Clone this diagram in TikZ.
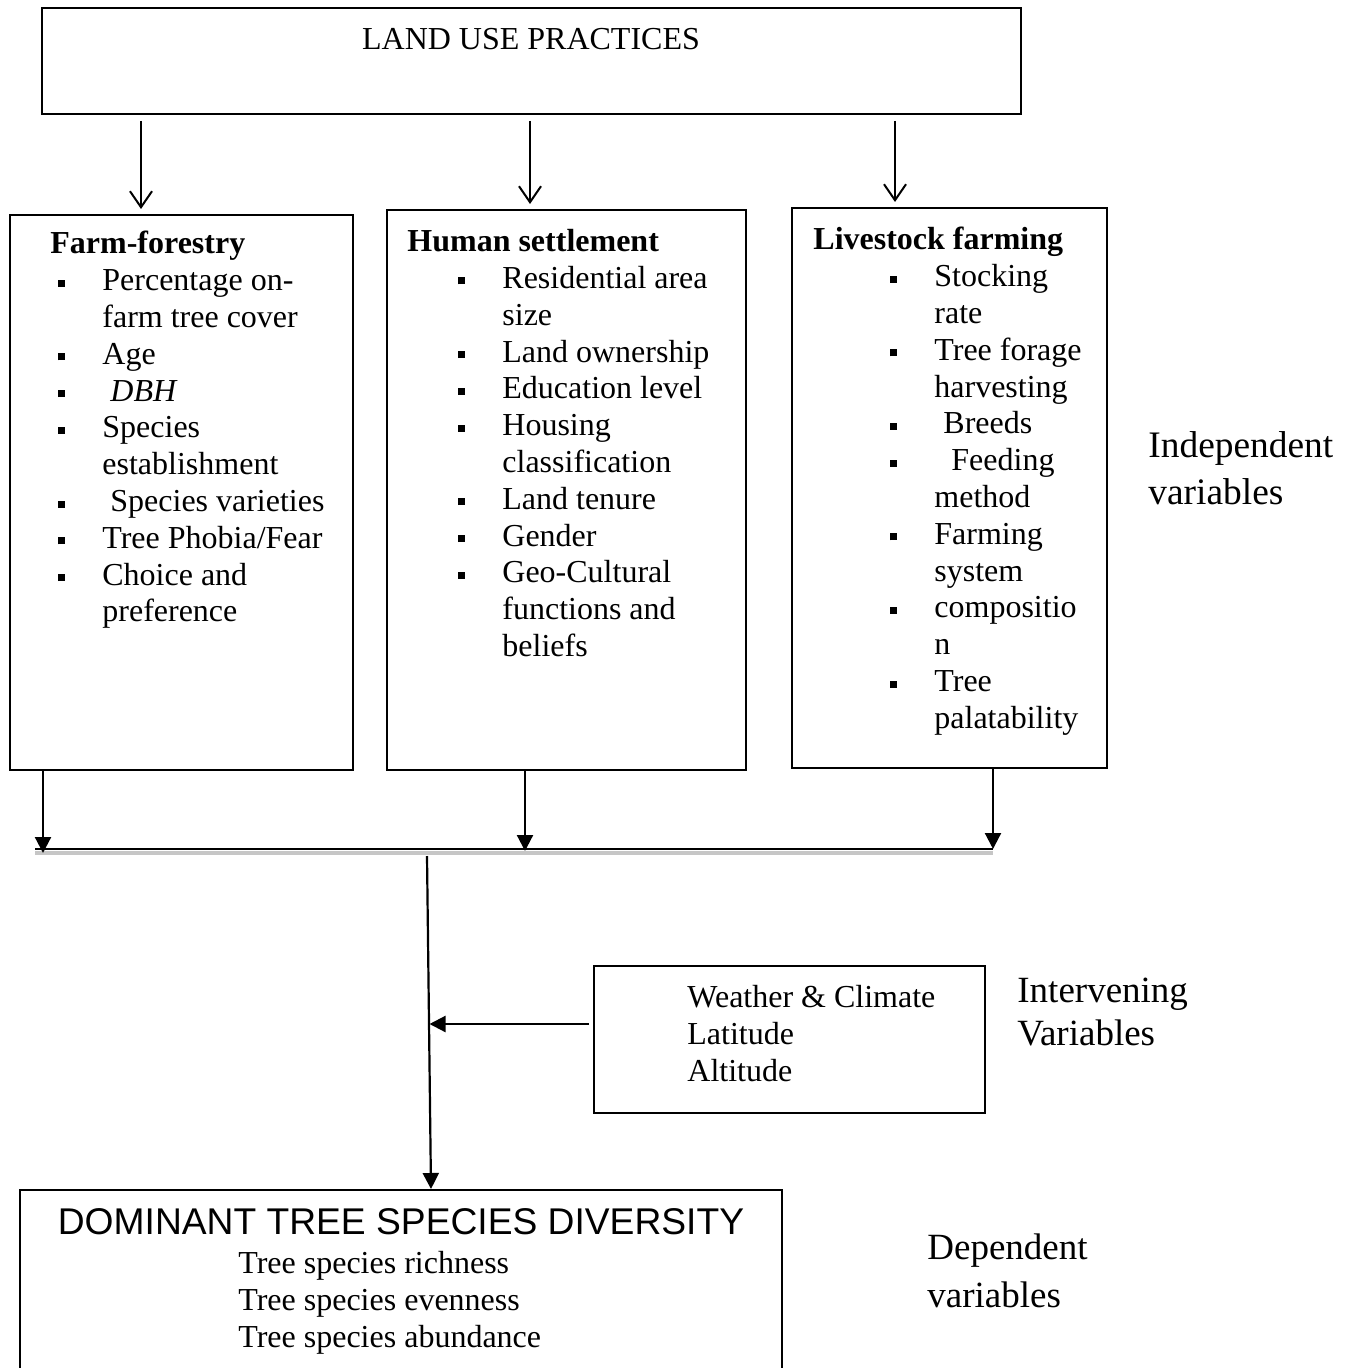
\documentclass[tikz,border=0pt]{standalone}
\usepackage{fontspec}
\setmainfont{Liberation Serif}
\setsansfont{Liberation Sans}
\usetikzlibrary{arrows.meta, positioning}

\newlength{\ind}
\newcommand{\sq}{\rule[2pt]{3.5pt}{3.5pt}}
\newcommand{\itm}[1]{\hspace*{\ind}\makebox[22pt][l]{\sq}#1}
\newcommand{\nxt}[1]{\hspace*{\ind}\hspace*{22pt}#1}

\tikzset{
  box/.style={draw, line width=1pt, inner sep=0pt},
  txt/.style={inner sep=0pt, align=left, font=\fontsize{16}{18.4}\selectfont\setlength{\ind}{#1}},
  txt/.default=0pt,
  opn/.style={-{Straight Barb[length=8pt,width=11pt]}, line width=1pt},
  fil/.style={-{Triangle[length=8pt,width=8pt]}, line width=1.1pt}
}

\begin{document}
\begin{tikzpicture}[x=0.5pt, y=-0.5pt]
  \clip (0,0) rectangle (1353,1368);

  % Land use
  \node[box, minimum width=489.5pt, minimum height=53pt] (top) at (531.5,61) {};
  \node[txt, anchor=north] (topT) at (531,28) {LAND USE PRACTICES};

  % Independent variables
  \node[box, minimum width=171.5pt, minimum height=277.5pt] (ff) at (181.5,492.5) {};
  \node[box, minimum width=179.5pt, minimum height=280pt] (hs) at (566.5,490) {};
  \node[box, minimum width=157.5pt, minimum height=280pt] (lf) at (949.5,488) {};

  \node[txt=4pt, anchor=north west] (ffT) at (50,231) {\textbf{Farm-forestry}\\
    \itm{Percentage on-}\\ \nxt{farm tree cover}\\ \itm{Age}\\ \itm{\hspace{4pt}\textit{DBH}}\\
    \itm{Species}\\ \nxt{establishment}\\ \itm{\hspace{4pt}Species varieties}\\
    \itm{Tree Phobia/Fear}\\ \itm{Choice and}\\ \nxt{preference}};
  \node[txt=25.5pt, anchor=north west] (hsT) at (407,229) {\textbf{Human settlement}\\
    \itm{Residential area}\\ \nxt{size}\\ \itm{Land ownership}\\ \itm{Education level}\\
    \itm{Housing}\\ \nxt{classification}\\ \itm{Land tenure}\\ \itm{Gender}\\
    \itm{Geo-Cultural}\\ \nxt{functions and}\\ \nxt{beliefs}};
  \node[txt=38.5pt, anchor=north west] (lfT) at (813,227) {\textbf{Livestock farming}\\
    \itm{Stocking}\\ \nxt{rate}\\ \itm{Tree forage}\\ \nxt{harvesting}\\
    \itm{\hspace{4.5pt}Breeds}\\ \itm{\hspace{8.5pt}Feeding}\\ \nxt{method}\\
    \itm{Farming}\\ \nxt{system}\\ \itm{compositio}\\ \nxt{n}\\ \itm{Tree}\\ \nxt{palatability}};

  \node[txt, anchor=north west, font=\fontsize{18.7}{23.5}\selectfont] (indep) at (1148,431) {Independent\\variables};

  % Intervening variables
  \node[box, minimum width=195.5pt, minimum height=73.5pt] (iv) at (789.5,1039.5) {};
  \node[txt, anchor=north west] (ivT) at (687,985) {Weather \& Climate\\Latitude\\Altitude};
  \node[txt, anchor=north west, font=\fontsize{18.5}{21.5}\selectfont] (interv) at (1017,978) {Intervening\\Variables};

  % Dependent variables
  \node[box, minimum width=381pt, minimum height=110pt] (dv) at (401,1300) {};
  \node[anchor=north, inner sep=0pt, font=\sffamily\fontsize{18.6}{22}\selectfont] (dvH) at (401,1208) {DOMINANT TREE SPECIES DIVERSITY};
  \node[txt, anchor=north west] (dvT) at (238,1251) {Tree species richness\\Tree species evenness\\Tree species abundance};
  \node[txt, anchor=north west, font=\fontsize{18.5}{24}\selectfont] (depen) at (927,1233) {Dependent\\variables};

  % Arrows
  \coordinate (u1) at (141,0);
  \coordinate (u2) at (530,0);
  \coordinate (u3) at (895,0);
  \foreach \b/\u in {ff/u1, hs/u2, lf/u3}
    \draw[opn, shorten >=2.5pt] (top.south -| \u) ++(0,6) -- (\b.north -| \u);

  \coordinate (busL) at (35,849);
  \coordinate (busR) at (993,849);
  \draw[gray!45, line width=2pt] ([yshift=-1.8pt]busL) -- ([yshift=-1.8pt]busR);
  \draw[line width=0.9pt] (busL) -- (busR);

  \coordinate (d1) at (43,853);
  \coordinate (d2) at (525,851);
  \coordinate (d3) at (993,849);
  \foreach \b/\d in {ff/d1, hs/d2, lf/d3}
    \draw[fil] (\b.south -| \d) -- (\d);

  \coordinate (t0) at (427,856);
  \coordinate (t1) at (431,0);
  \draw[fil] (t0) -- (dv.north -| t1);
  \coordinate (k) at (429.5,1024);
  \draw[fil, shorten <=2pt] (iv.west |- k) -- (k);
\end{tikzpicture}
\end{document}
